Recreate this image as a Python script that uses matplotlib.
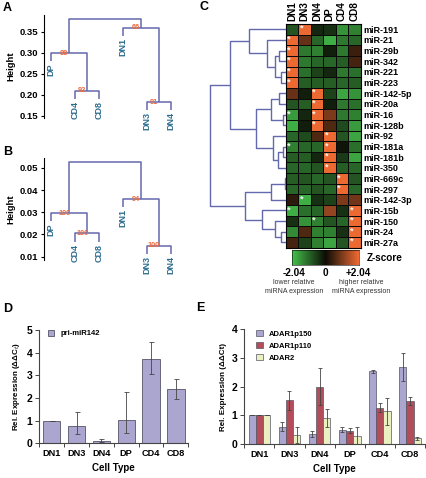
import matplotlib
matplotlib.use("Agg")
import matplotlib.pyplot as plt
import numpy as np
from matplotlib.colors import LinearSegmentedColormap

plt.rcParams['font.family'] = ['Liberation Sans', 'DejaVu Sans']

# ---------------- data ----------------
cell_types = ["DN1", "DN3", "DN4", "DP", "CD4", "CD8"]

# Panels A/B: sample dendrograms [left, right, height, bootstrap]
leaf_order_ab = ["DP", "CD4", "CD8", "DN1", "DN3", "DN4"]
tree_a = [["DP", ["CD4", "CD8", 0.209, 92], 0.2986, 88],
          ["DN1", ["DN3", "DN4", 0.182, 91], 0.3595, 66], 0.3795, None]
tree_b = [["DP", ["CD4", "CD8", 0.0205, 100], 0.0296, 100],
          ["DN1", ["DN3", "DN4", 0.0149, 100], 0.036, 94], 0.0527, None]
yticks_a = [0.15, 0.20, 0.25, 0.30, 0.35]
yticks_b = [0.01, 0.02, 0.03, 0.04, 0.05]

# Panel C: heatmap
mirnas = ["miR-191", "miR-21", "miR-29b", "miR-342", "miR-221", "miR-223",
          "miR-142-5p", "miR-20a", "miR-16", "miR-128b", "miR-92", "miR-181a",
          "miR-181b", "miR-350", "miR-669c", "miR-297", "miR-142-3p", "miR-15b",
          "miR-150", "miR-24", "miR-27a"]
zscores = [
    [-0.8, 2.0, -0.3, -0.4, -1.5, -1.3],
    [2.0, 0.8, -1.0, -1.8, -1.2, -1.0],
    [2.0, -1.2, -1.3, -0.2, -1.2, 0.4],
    [2.0, -1.2, -1.0, -1.0, -0.9, 0.5],
    [2.0, -1.1, -0.6, -0.3, -1.2, -1.1],
    [2.0, -0.9, -0.9, -0.9, -1.0, -0.9],
    [0.8, -0.2, 2.0, -0.6, -1.7, -1.5],
    [-0.8, -0.9, 2.0, -0.2, -1.2, -1.1],
    [-1.6, -0.3, 2.0, 1.0, -1.2, -1.3],
    [-1.8, -0.2, 2.0, 0.6, -0.7, -1.6],
    [-1.0, -0.7, 0.6, 2.0, -0.8, -1.7],
    [-1.3, -1.0, -1.0, 2.0, -0.1, -1.1],
    [-0.9, -0.9, -0.3, 2.0, -0.5, -1.7],
    [-1.0, -1.0, -0.8, 2.0, -0.9, -1.0],
    [-0.9, -0.8, -1.0, -0.8, 2.0, -0.8],
    [-1.0, -1.0, -0.8, -1.0, 2.0, -1.0],
    [0.3, -1.8, -0.4, -0.6, 1.0, 0.9],
    [-1.8, -1.1, -1.0, 1.2, -0.4, 2.0],
    [-0.4, -1.5, -1.3, -0.8, -1.0, 2.0],
    [-1.4, 0.6, -1.3, -1.3, -0.4, 2.0],
    [0.5, -0.6, -1.3, -1.7, -0.8, 2.0],
]
starred = [("miR-191", "DN3"), ("miR-21", "DN1"), ("miR-29b", "DN1"), ("miR-342", "DN1"),
           ("miR-221", "DN1"), ("miR-223", "DN1"), ("miR-142-5p", "DN4"), ("miR-20a", "DN4"),
           ("miR-16", "DN1"), ("miR-16", "DN4"), ("miR-128b", "DN4"), ("miR-92", "DP"),
           ("miR-181a", "DN1"), ("miR-181a", "DP"), ("miR-181b", "DP"), ("miR-350", "DP"),
           ("miR-669c", "CD4"), ("miR-297", "CD4"), ("miR-142-3p", "DN3"), ("miR-15b", "DN1"),
           ("miR-15b", "CD8"), ("miR-150", "DN4"), ("miR-150", "CD8"), ("miR-24", "CD8"),
           ("miR-27a", "CD8")]
zlim = 2.04
tree_c = [
    [["miR-191", ["miR-21", [["miR-29b", "miR-342", 6.7], ["miR-221", "miR-223", 4.7], 11.4], 19.0], 37.4],
     [[["miR-142-5p", "miR-20a", 7.4], ["miR-16", "miR-128b", 3.4], 14.7],
      ["miR-92", [["miR-181a", "miR-181b", 3.4], "miR-350", 8.0], 13.4], 29.7], 55.7],
    [[["miR-669c", "miR-297", 1.4], "miR-142-3p", 14.7],
     ["miR-15b", ["miR-150", ["miR-24", "miR-27a", 4.7], 10.7], 24.0], 41.4],
    76.4]

# Panel D
d_label = "pri-miR142"
d_values = [1.0, 0.75, 0.10, 1.05, 3.70, 2.38]
d_err_low = [0.0, 0.33, 0.05, 0.58, 0.63, 0.41]
d_err_high = [0.0, 0.65, 0.10, 1.23, 0.78, 0.47]

# Panel E
e_series = ["ADAR1p150", "ADAR1p110", "ADAR2"]
e_p150 = [1.0, 0.60, 0.35, 0.50, 2.53, 2.68]
e_p150_err = [0.0, 0.15, 0.12, 0.08, 0.05, 0.50]
e_p110 = [1.0, 1.53, 2.00, 0.47, 1.27, 1.50]
e_p110_err = [0.0, 0.33, 0.65, 0.08, 0.15, 0.15]
e_adar2 = [1.0, 0.30, 0.90, 0.27, 1.15, 0.20]
e_adar2_err = [0.0, 0.28, 0.32, 0.32, 0.47, 0.05]

# ---------------- figure ----------------
W, H = 426, 478
fig = plt.figure(figsize=(W / 100, H / 100), dpi=100)


def ax_px(l, t, r, b):
    return fig.add_axes([l / W, 1 - b / H, (r - l) / W, (b - t) / H])


LINE = "#6468ad"
LEAF = "#2c6c8e"
NUM = "#ee6a3c"


def draw_vtree(ax, node, order, hang):
    if isinstance(node, str):
        return order.index(node) + 1, None, node
    left, right, h, bs = node
    xl, hl, nl = draw_vtree(ax, left, order, hang)
    xr, hr, nr = draw_vtree(ax, right, order, hang)
    yl = hl if hl is not None else h - hang
    yr = hr if hr is not None else h - hang
    ax.plot([xl, xl, xr, xr], [yl, h, h, yr], color=LINE, lw=1.1, solid_capstyle='butt')
    for x, hc, name, y in ((xl, hl, nl, yl), (xr, hr, nr, yr)):
        if hc is None:
            ax.text(x, y - hang * 0.25, name, rotation=90, ha='center', va='top',
                    color=LEAF, fontsize=6.5, fontweight='bold')
    if bs is not None:
        ax.text((xl + xr) / 2 - 0.2, h, str(bs), ha='center', va='center',
                color=NUM, fontsize=5.3, fontweight='bold')
    return (xl + xr) / 2, h, None


def setup_dendro_axis(ax, ylim, yticks, fmt):
    ax.set_ylim(*ylim)
    ax.set_xlim(0.7, 6.6)
    for s in ("top", "right", "bottom"):
        ax.spines[s].set_visible(False)
    ax.spines["left"].set_linewidth(0.8)
    ax.set_xticks([])
    ax.set_yticks(yticks)
    ax.set_yticklabels([fmt.format(v) for v in yticks], fontsize=6.8, fontweight='bold')
    ax.tick_params(axis='y', length=2.5, width=0.8, pad=1.5)
    ax.set_ylabel("Height", fontsize=6.8, fontweight='bold', labelpad=3)
    ax.patch.set_alpha(0)


# Panel A
axA = ax_px(44, 15, 185, 118)
setup_dendro_axis(axA, (0.1445, 0.3898), yticks_a, "{:.2f}")
draw_vtree(axA, tree_a, leaf_order_ab, 0.019)

# Panel B
axB = ax_px(44, 158, 185, 260)
setup_dendro_axis(axB, (0.0085, 0.0545), yticks_b, "{:.2f}")
draw_vtree(axB, tree_b, leaf_order_ab, 0.0037)

# Panel C heatmap
cmap = LinearSegmentedColormap.from_list("gbr", ["#45c24c", "#0c0c05", "#f06a32"])
axC = ax_px(286, 24, 360.7, 247.7)
Z = np.array(zscores)
axC.pcolormesh(np.arange(7), np.arange(len(mirnas) + 1), Z, cmap=cmap, vmin=-zlim, vmax=zlim,
               edgecolors='#0a0a0a', linewidth=0.6)
axC.set_xlim(0, 6)
axC.set_ylim(len(mirnas), 0)
for r, c in starred:
    i = mirnas.index(r)
    j = cell_types.index(c)
    axC.text(j + 0.24, i + 0.42, "*", color='#f4f4f4', fontsize=6.5, fontweight='bold',
             ha='center', va='center')
axC.set_xticks(np.arange(6) + 0.5)
axC.set_xticklabels(cell_types, rotation=90, fontsize=7.2, fontweight='bold')
axC.xaxis.tick_top()
axC.set_yticks(np.arange(len(mirnas)) + 0.5)
axC.set_yticklabels(mirnas, fontsize=6.5, fontweight='bold')
axC.yaxis.tick_right()
axC.tick_params(length=0, pad=2)
for s in axC.spines.values():
    s.set_linewidth(0.8)

# Row dendrogram
axCd = ax_px(205, 24, 286, 247.7)
axCd.set_xlim(81, 0)
axCd.set_ylim(len(mirnas), 0)
axCd.axis('off')


def draw_htree(ax, node):
    if isinstance(node, str):
        return mirnas.index(node) + 0.5, 0.0
    left, right, h = node
    yl, hl = draw_htree(ax, left)
    yr, hr = draw_htree(ax, right)
    ax.plot([hl, h, h, hr], [yl, yl, yr, yr], color=LINE, lw=1.0, solid_capstyle='butt')
    return (yl + yr) / 2, h


draw_htree(axCd, tree_c)

# Colorbar
axCb = ax_px(292.3, 250, 359.3, 265)
grad = np.linspace(-zlim, zlim, 256)[None, :]
axCb.imshow(grad, aspect='auto', cmap=cmap, vmin=-zlim, vmax=zlim, extent=(-zlim, zlim, 0, 1))
axCb.set_xticks([])
axCb.set_yticks([])
for s in axCb.spines.values():
    s.set_linewidth(0.4)
fig.text(367 / W, 1 - 258 / H, "Z-score", fontsize=7.2, fontweight='bold', va='center')
for x, t in ((294.3, "-2.04"), (325.7, "0"), (358.3, "+2.04")):
    fig.text(x / W, 1 - 272.5 / H, t, fontsize=7.2, fontweight='bold', ha='center', va='center')
fig.text(294 / W, 1 - 287 / H, "lower relative\nmiRNA expression", fontsize=5, ha='center',
         va='center', linespacing=1.3, color='#333333')
fig.text(361 / W, 1 - 287 / H, "higher relative\nmiRNA expression", fontsize=5, ha='center',
         va='center', linespacing=1.3, color='#333333')


def style_bar_axis(ax, ymax):
    ax.set_xlim(0, 6)
    ax.set_ylim(0, ymax)
    for s in ("top", "right"):
        ax.spines[s].set_visible(False)
    for s in ("left", "bottom"):
        ax.spines[s].set_linewidth(0.8)
        ax.spines[s].set_color('#444444')
    ax.set_xticks(np.arange(7))
    ax.set_xticklabels([])
    ax.set_xticks(np.arange(6) + 0.5, minor=True)
    ax.set_xticklabels(cell_types, minor=True, fontsize=6.6, fontweight='bold')
    ax.tick_params(axis='x', which='major', length=3, width=0.7, color='#444444')
    ax.tick_params(axis='x', which='minor', length=0, pad=4)
    ax.set_yticks(np.arange(ymax + 1))
    ax.set_yticklabels([str(v) for v in range(ymax + 1)], fontsize=7.5, fontweight='bold')
    ax.tick_params(axis='y', length=3, width=0.7, color='#444444', pad=2)
    ax.set_xlabel("Cell Type", fontsize=7, fontweight='bold', labelpad=4)


# Panel D
axD = ax_px(39.3, 330, 188.3, 443.3)
xs = np.arange(6) + 0.5
axD.bar(xs, d_values, width=0.7, color="#aaa6d0", edgecolor="#555566", linewidth=0.6, label=d_label,
        yerr=[d_err_low, d_err_high], error_kw=dict(ecolor='#444444', elinewidth=0.6, capsize=1.8, capthick=0.6))
style_bar_axis(axD, 5)
axD.set_ylabel("Rel. Expression (ΔΔC$_t$)", fontsize=5.8, fontweight='bold', labelpad=3)
axD.legend(loc='upper left', bbox_to_anchor=(0.04, 1.03), frameon=False,
           handlelength=0.8, handleheight=0.8, borderaxespad=0, prop={'weight': 'bold', 'size': 5.5})

# Panel E
axE = ax_px(244.3, 329.3, 425, 444)
bw = 0.24
e_colors = ["#aaa6d0", "#b34d5a", "#eaf0c2"]
for k, (vals, errs) in enumerate(((e_p150, e_p150_err), (e_p110, e_p110_err), (e_adar2, e_adar2_err))):
    axE.bar(xs + (k - 1) * bw, vals, width=bw, color=e_colors[k], edgecolor="#555566", linewidth=0.5,
            label=e_series[k], yerr=errs,
            error_kw=dict(ecolor='#444444', elinewidth=0.6, capsize=1.5, capthick=0.6))
style_bar_axis(axE, 4)
axE.set_ylabel("Rel. Expression (ΔΔCt)", fontsize=5.8, fontweight='bold', labelpad=3)
axE.legend(loc='upper left', bbox_to_anchor=(0.05, 1.02), frameon=False,
           handlelength=0.8, handleheight=0.8, borderaxespad=0, labelspacing=0.6,
           prop={'weight': 'bold', 'size': 5.5})

# Panel letters
for x, y, t in ((3, 8, "A"), (3, 152, "B"), (200, 7, "C"), (3, 309, "D"), (196, 308, "E")):
    fig.text(x / W, 1 - y / H, t, fontsize=9, fontweight='bold', va='center', ha='left')

fig.savefig("out.png", dpi=100)
